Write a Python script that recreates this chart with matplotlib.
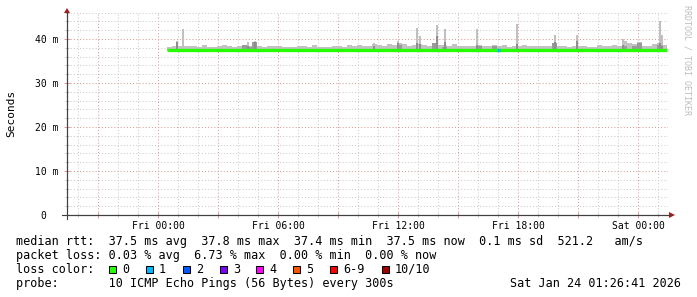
import numpy as np
import matplotlib
matplotlib.use('Agg')
import matplotlib.pyplot as plt
from matplotlib.patches import Rectangle, Polygon
from matplotlib.lines import Line2D
from matplotlib.ticker import MultipleLocator, FuncFormatter

W, H = 697, 297
MONO = 'DejaVu Sans Mono'

# 15 minute bins, hours relative to Fri 00:00
bin_width = 0.25
first_bin = 0.45

median_ms = [
    37.4, 37.5, 37.5, 37.5, 37.4, 37.5, 37.5, 37.4, 37.5, 37.5,
    37.5, 37.4, 37.5, 37.5, 37.5, 37.4, 37.5, 37.5, 37.5, 37.4,
    37.5, 37.5, 37.5, 37.4, 37.5, 37.5, 37.5, 37.5, 37.4, 37.5,
    37.5, 37.5, 37.4, 37.5, 37.5, 37.5, 37.5, 37.5, 37.4, 37.5,
    37.5, 37.5, 37.5, 37.4, 37.5, 37.5, 37.5, 37.5, 37.5, 37.5,
    37.4, 37.5, 37.5, 37.4, 37.5, 37.5, 37.5, 37.5, 37.4, 37.5,
    37.5, 37.5, 37.5, 37.4, 37.5, 37.5, 37.4, 37.5, 37.5, 37.5,
    37.5, 37.5, 37.4, 37.5, 37.5, 37.5, 37.5, 37.4, 37.5, 37.5,
    37.5, 37.5, 37.4, 37.5, 37.5, 37.5, 37.5, 37.5, 37.4, 37.5,
    37.5, 37.6, 37.5, 37.5, 37.4, 37.5, 37.5, 37.5, 37.5, 37.5,
]
smoke_top_ms = [
    38.2, 38.3, 38.5, 38.3, 38.3, 38.4, 38.2, 38.6, 38.2, 38.1,
    38.3, 38.7, 38.5, 38.2, 38.3, 38.6, 38.5, 38.6, 38.5, 38.2,
    38.3, 38.4, 38.4, 38.1, 38.2, 38.2, 38.3, 38.5, 38.2, 38.6,
    38.2, 38.1, 38.2, 38.3, 38.4, 38.2, 38.7, 38.4, 38.7, 38.5,
    38.3, 38.8, 38.6, 38.4, 38.8, 38.6, 39.2, 38.8, 38.3, 38.6,
    38.9, 38.7, 38.5, 38.9, 38.6, 38.6, 38.3, 38.8, 38.4, 38.5,
    38.3, 38.5, 38.6, 38.3, 38.5, 38.7, 38.3, 38.6, 38.2, 38.4,
    38.3, 38.6, 38.5, 38.3, 38.5, 38.4, 38.3, 38.9, 38.4, 38.4,
    38.2, 38.5, 38.3, 38.4, 38.2, 38.2, 38.6, 38.4, 38.5, 38.6,
    38.4, 39.6, 39.1, 38.8, 39.4, 38.4, 38.3, 38.9, 39.2, 38.6,
]
dark_top_ms = [
    37.8, 37.8, 37.8, 37.8, 37.8, 37.8, 37.8, 37.8, 37.8, 37.8,
    37.8, 37.8, 37.8, 37.8, 37.8, 38.6, 38.2, 39.3, 37.8, 37.8,
    37.8, 37.8, 37.8, 37.8, 37.8, 37.8, 37.8, 37.8, 37.8, 37.8,
    37.8, 37.8, 37.8, 37.8, 37.8, 37.8, 37.8, 37.8, 37.8, 37.8,
    37.8, 37.8, 37.8, 37.8, 37.8, 37.8, 38.7, 37.8, 37.8, 37.8,
    37.8, 37.8, 37.8, 39.0, 37.8, 38.2, 37.8, 37.8, 37.8, 37.8,
    37.8, 37.8, 38.3, 37.8, 37.8, 38.5, 37.8, 37.8, 37.8, 37.8,
    37.8, 37.8, 37.8, 37.8, 37.8, 37.8, 37.8, 39.2, 37.8, 37.8,
    37.8, 37.8, 37.8, 37.8, 37.8, 37.8, 37.8, 37.8, 37.8, 37.8,
    37.8, 38.4, 37.8, 38.3, 39.2, 37.8, 37.8, 37.8, 38.6, 37.8,
]
# loss level index (into loss_colors) for bins that lost pings
loss_bin_index = [66]
loss_bin_level = [1]

spike_hours = [0.95, 1.25, 4.5, 4.85, 10.8, 12.0, 12.95, 13.1, 13.93,
               14.33, 15.93, 17.93, 19.85, 20.93, 23.23, 25.08, 25.2]
spike_top_ms = [39.6, 42.3, 39.3, 39.5, 39.1, 39.5, 42.6, 40.7, 43.2,
                42.3, 42.3, 43.4, 40.9, 40.9, 40.0, 44.1, 40.9]
spike_mid_ms = [39.3, 37.8, 38.4, 39.4, 38.3, 39.0, 39.0, 38.8, 40.7,
                39.3, 38.6, 38.8, 39.3, 39.5, 38.6, 39.0, 38.5]

tick_hours = [0, 6, 12, 18, 24]
tick_labels = ['Fri 00:00', 'Fri 06:00', 'Fri 12:00', 'Fri 18:00', 'Sat 00:00']
ytick_values = [0, 10, 20, 30, 40]
ytick_labels = ['0  ', '10 m', '20 m', '30 m', '40 m']

loss_names = ['0', '1', '2', '3', '4', '5', '6-9', '10/10']
loss_colors = ['#26ff00', '#00b8ff', '#0059ff', '#7e00ff', '#ff00ff',
               '#ff5500', '#ff0000', '#a10000']
loss_box_x = [109, 146, 183, 220, 256, 293, 330, 382]

legend_rows = [
    'median rtt:  37.5 ms avg  37.8 ms max  37.4 ms min  37.5 ms now  0.1 ms sd  521.2   am/s',
    'packet loss: 0.03 % avg  6.73 % max  0.00 % min  0.00 % now',
    'loss color:',
    'probe:       10 ICMP Echo Pings (56 Bytes) every 300s',
]
stamp = 'Sat Jan 24 01:26:41 2026'


def fx(x):
    return x / W


def fy(y):
    return 1 - y / H


fig = plt.figure(figsize=(W / 100, H / 100), dpi=100)
ax = fig.add_axes([fx(67), fy(215), 601 / W, 203 / H])
ax.set_xlim(-4.55, 25.5)
ax.set_ylim(0, 46.14)

bins = first_bin + bin_width * np.arange(len(median_ms))
med = np.array(median_ms)

# smoke
ax.bar(bins, np.array(smoke_top_ms) - med, bottom=med, width=bin_width,
       align='edge', color='#c2c2c2', linewidth=0, zorder=2)
ax.bar(bins, np.array(dark_top_ms) - med, bottom=med, width=bin_width,
       align='edge', color='#9a9a9a', linewidth=0, zorder=3)
sp_base = np.interp(spike_hours, bins + bin_width / 2, med)
ax.bar(spike_hours, np.array(spike_top_ms) - sp_base, bottom=sp_base, width=0.09,
       color='#c0c0c0', linewidth=0, zorder=2.5)
ax.bar(spike_hours, np.array(spike_mid_ms) - sp_base, bottom=sp_base, width=0.09,
       color='#8e8e8e', linewidth=0, zorder=3)

# median line
ax.step(np.append(bins, bins[-1] + bin_width), np.append(med, med[-1]),
        where='post', color=loss_colors[0], linewidth=2.4, zorder=4,
        solid_capstyle='butt')
for i, lv in zip(loss_bin_index, loss_bin_level):
    ax.hlines(med[i], bins[i], bins[i] + bin_width * 0.6,
              color=loss_colors[lv], linewidth=2.4, zorder=5)

# grid / ticks
ax.xaxis.set_major_locator(MultipleLocator(3))
ax.xaxis.set_minor_locator(MultipleLocator(1))
ax.yaxis.set_major_locator(MultipleLocator(10))
ax.yaxis.set_minor_locator(MultipleLocator(2))
xlab = dict(zip(tick_hours, tick_labels))
ylab = dict(zip(ytick_values, ytick_labels))
ax.xaxis.set_major_formatter(FuncFormatter(lambda v, p: xlab.get(int(round(v)), '')))
ax.yaxis.set_major_formatter(FuncFormatter(lambda v, p: ylab.get(int(round(v)), '')))
ax.grid(which='minor', color='#cccccc', linestyle=(0, (1, 2)), linewidth=0.75)
ax.grid(which='major', color='#dd9c9c', linestyle=(0, (1, 2)), linewidth=0.75)
ax.set_axisbelow(True)
ax.tick_params(which='major', direction='inout', length=4, width=0.75,
               color='#dd9c9c', labelsize=7, pad=2)
ax.tick_params(which='minor', direction='inout', length=3, width=0.75, color='#c8c8c8')
ax.tick_params(axis='y', which='major', pad=4)
for lbl in ax.get_xticklabels() + ax.get_yticklabels():
    lbl.set_family(MONO)

for s in ['top', 'right']:
    ax.spines[s].set_visible(False)
for s in ['left', 'bottom']:
    ax.spines[s].set_color('#404040')
    ax.spines[s].set_linewidth(0.8)

# axis extensions and arrows
fig.add_artist(Line2D([fx(62), fx(670)], [fy(215), fy(215)], color='#404040', lw=0.8))
fig.add_artist(Line2D([fx(67), fx(67)], [fy(219), fy(12)], color='#404040', lw=0.8))
fig.add_artist(Polygon([(fx(67), fy(8)), (fx(64), fy(13)), (fx(70), fy(13))],
                       closed=True, color='#a81c1c', lw=0))
fig.add_artist(Polygon([(fx(675), fy(215)), (fx(669), fy(212)), (fx(669), fy(218))],
                       closed=True, color='#a81c1c', lw=0))

fig.text(fx(11), fy(113), 'Seconds', rotation=90, ha='center', va='center',
         family=MONO, fontsize=8)
fig.text(fx(687), fy(60), 'RRDTOOL / TOBI OETIKER', rotation=270, ha='center',
         va='center', family=MONO, fontsize=6, color='#bdbdbd')

row_y = [241.5, 255.5, 269.5, 283.5]
for txt, y in zip(legend_rows, row_y):
    fig.text(fx(16), fy(y), txt, family=MONO, fontsize=8.5, va='center', ha='left')
fig.text(fx(681), fy(row_y[3]), stamp, family=MONO, fontsize=8.5, va='center', ha='right')

for name, col, bx in zip(loss_names, loss_colors, loss_box_x):
    fig.add_artist(Rectangle((fx(bx), fy(273)), 7 / W, 7 / H, facecolor=col,
                             edgecolor='black', linewidth=0.75))
    fig.text(fx(bx + 13), fy(row_y[2]), name, family=MONO, fontsize=8.5,
             va='center', ha='left')

fig.savefig('out.png', dpi=100, facecolor='white')
